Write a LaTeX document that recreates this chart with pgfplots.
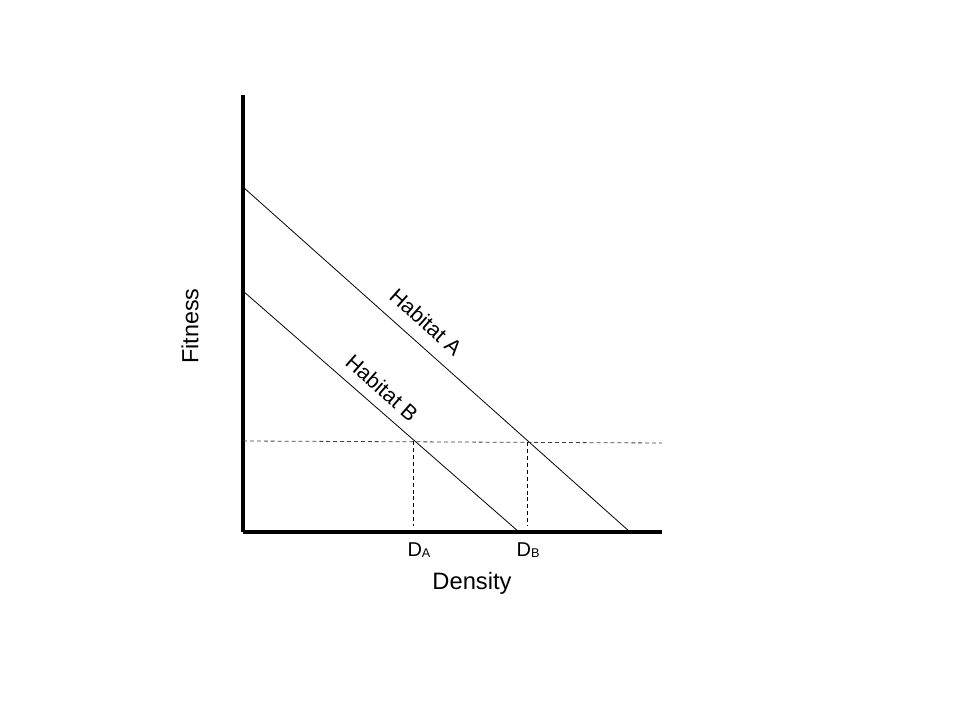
\documentclass[border=0pt]{standalone}
\usepackage{pgfplots}
\pgfplotsset{compat=1.18}
\usepackage{fontspec}
\setmainfont{Liberation Sans}

\begin{document}
\begin{tikzpicture}[x=0.75pt,y=0.75pt]
\useasboundingbox (-243,-188) rectangle (717,532);
\begin{axis}[
    at={(0,0)}, anchor=south west,
    scale only axis,
    width=314.25pt, height=327.75pt,
    xmin=0, xmax=419, ymin=0, ymax=437,
    axis lines=left,
    axis line style={-, line width=2.4pt},
    xtick=\empty, ytick=\empty,
    clip=false,
]
    % Habitat A
    \addplot[black, line width=0.6pt] coordinates {(0,345) (387,0)};
    % Habitat B
    \addplot[black, line width=0.6pt] coordinates {(0,241) (276,0)};
    % equal fitness level
    \addplot[black!75, line width=0.6pt, dash pattern=on 3pt off 2.2pt] coordinates {(0,91) (419,89)};
    \addplot[black, line width=0.6pt, dash pattern=on 3pt off 2.2pt] coordinates {(170,91) (170,6)};
    \addplot[black, line width=0.6pt, dash pattern=on 3pt off 2.2pt] coordinates {(284,90) (284,6)};

    \node[rotate=-41.7, font=\fontsize{16}{19}\selectfont] at (axis cs:183,210) {Habitat A};
    \node[rotate=-41.3, font=\fontsize{16}{19}\selectfont] at (axis cs:139,144) {Habitat B};
    \node[font=\fontsize{15}{17}\selectfont] at (axis cs:176,-18) {D\raisebox{-0.15ex}{\fontsize{9.5}{11}\selectfont A}};
    \node[font=\fontsize{15}{17}\selectfont] at (axis cs:285,-18) {D\raisebox{-0.15ex}{\fontsize{9.5}{11}\selectfont B}};
    \node[font=\fontsize{17.8}{21}\selectfont] at (axis cs:229,-51) {Density};
    \node[rotate=90, font=\fontsize{17.5}{21}\selectfont] at (axis cs:-53,206) {Fitness};
\end{axis}
\end{tikzpicture}
\end{document}
